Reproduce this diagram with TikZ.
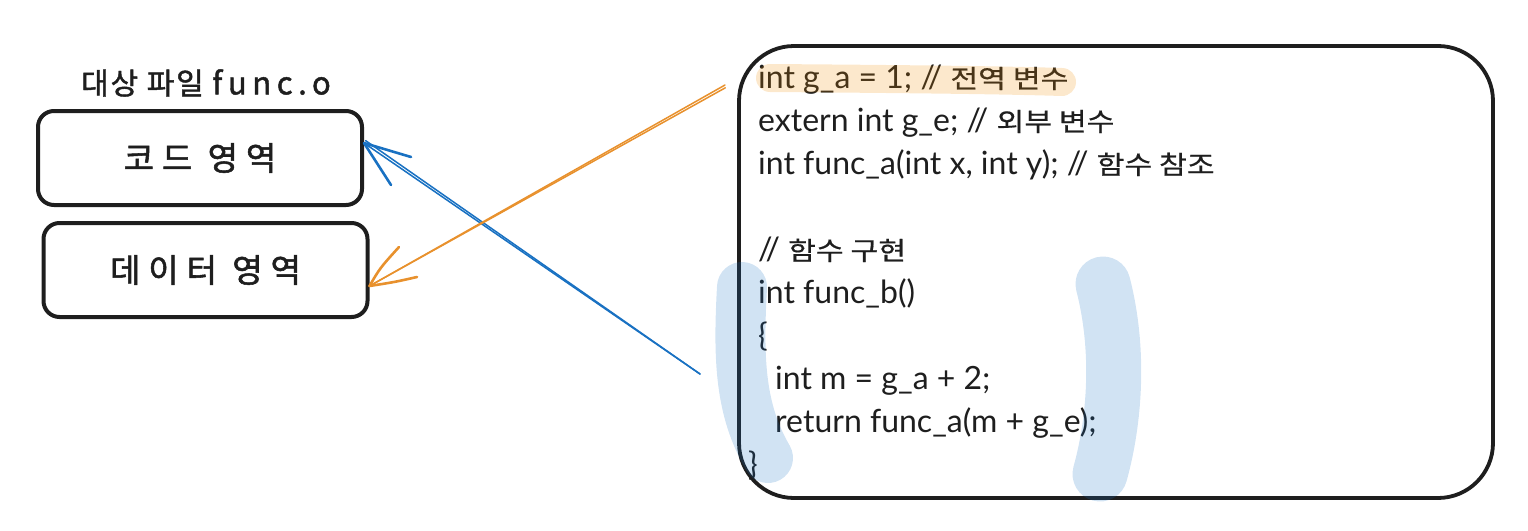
\documentclass[tikz,border=0pt]{standalone}
\usepackage{fontspec}
\setmainfont{Lato}
\newfontfamily\kr[Scale=0.8,FakeStretch=1.18,FakeBold=0.6]{Noto Sans CJK KR}
\newfontfamily\hand[LetterSpace=24,FakeBold=1.6]{Noto Sans CJK KR}
\newfontfamily\handtitle[LetterSpace=6,FakeBold=1.4]{Noto Sans CJK KR}
\newfontfamily\handlatin[LetterSpace=18,FakeBold=1.4]{Noto Sans CJK KR}
\usetikzlibrary{calc}
\definecolor{ink}{HTML}{1E1E1E}
\definecolor{arrblue}{HTML}{1971C2}
\definecolor{arrorange}{HTML}{E8912D}
\definecolor{hlorange}{HTML}{F08C00}
\begin{document}
\begin{tikzpicture}[x=1pt,y=-1pt,
  box/.style={draw=ink, line width=4pt, rounded corners=16pt, minimum width=324pt, minimum height=94pt, inner sep=0pt, font=\hand\fontsize{33}{38}\selectfont, text=ink},
  bigbox/.style={draw=ink, line width=3.8pt, rounded corners=55pt, minimum width=754pt, minimum height=452pt, inner sep=0pt},
  codeline/.style={anchor=base west, inner sep=0pt, font=\fontsize{32}{40}\selectfont, text=ink},
  titletext/.style={inner sep=0pt, font=\handtitle\fontsize{30}{34}\selectfont, text=ink},
  shaft/.style={line width=1.5pt, line cap=round},
  barb/.style={line width=2.6pt, line cap=round},
  hlblue/.style={line cap=round, draw=arrblue, draw opacity=0.2},
  hlline/.style={line width=28pt, line cap=round, draw=hlorange, draw opacity=0.2}
]
\useasboundingbox (0,0) rectangle (1528,530);

% left side
\node[titletext] (title) at (206,83) {대상 파일 {\handlatin\fontsize{31}{32}\selectfont func.o}};
\node[box] (box1) at (200,158) {코드 영역};
\node[box] (box2) at (205.5,270) {데이터 영역};

% code box
\node[bigbox] (code) at (1116,272) {};
\node[codeline] (l1) at (758,88) {int g\_a = 1; // {\kr 전역 변수}};
\node[codeline] (l2) at (758,131) {extern int g\_e; // {\kr 외부 변수}};
\node[codeline] (l3) at (758,174) {int func\_a(int x, int y); // {\kr 함수 참조}};
\node[codeline] (l5) at (758,260) {// {\kr 함수 구현}};
\node[codeline] (l6) at (758,303) {int func\_b()};
\node[codeline] (l7) at (758,346) {\{};
\node[codeline] (l8) at (775,389) {int m = g\_a + 2;};
\node[codeline] (l9) at (775,432) {return func\_a(m + g\_e);};
\node[codeline] (l10) at (748,475) {\}};

% highlights
\draw[hlline] (770,78) .. controls (900,79) and (1000,80) .. (1062,82);
\draw[hlblue, line width=50pt] (742,287) .. controls (738,360) and (740,410) .. (768,458);
\draw[hlblue, line width=55pt] (1103,284) .. controls (1120,350) and (1115,420) .. (1100,474);

% connectors
\coordinate (btail) at (700,374);
\coordinate (btip) at ($(box1.east)+(0,-15)$);
\coordinate (otail) at (725,85);
\coordinate (otip) at ($(box2.east)+(0,16)$);

\draw[arrblue, shaft] (btail) -- (btip);
\draw[arrblue, shaft] (btail) -- ($(btip)+(1.6,-2.4)$);
\draw[arrblue, barb] (btip) -- (411,157);
\draw[arrblue, barb] (btip) -- (391,185);

\draw[arrorange, shaft] (otail) -- (otip);
\draw[arrorange, shaft] ($(otail)+(0.3,2.8)$) -- (otip);
\draw[arrorange, barb] (otip) .. controls (380,268) .. (399,247);
\draw[arrorange, barb] (otip) .. controls (395,282) .. (417,277);
\end{tikzpicture}
\end{document}
